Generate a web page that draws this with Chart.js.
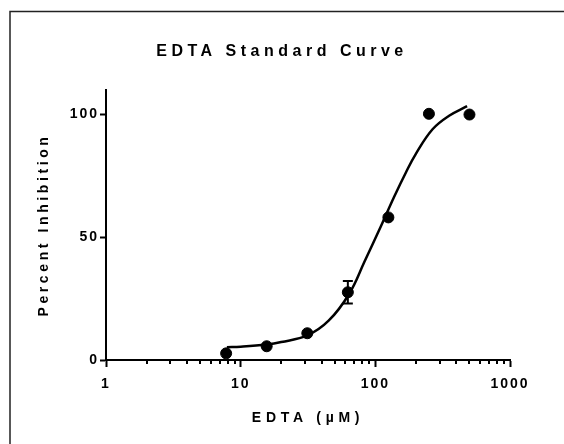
<!DOCTYPE html>
<html>
<head>
<meta charset="utf-8">
<script src="https://cdn.jsdelivr.net/npm/chart.js@4.4.1/dist/chart.umd.min.js"></script>
<style>
  html, body { margin: 0; padding: 0; background: #fff; overflow: hidden; }
  #wrap { position: relative; width: 564px; height: 444px; }
</style>
</head>
<body>
<div id="wrap"><canvas id="curveChart"></canvas></div>
<script>
// Dados medidos (EDTA, uM) e inibição (%)
const concentrations = [7.8, 15.6, 31.25, 62.5, 125, 250, 500];
const inhibition = [2.7, 5.6, 10.9, 27.6, 58.1, 100.3, 100];
const errors = [0, 0, 0, 4.6, 0, 0, 0];

// Curva ajustada
const fitX = [7.9, 10, 15.6, 20, 31.25, 45, 64, 83, 110, 138, 169, 200, 266, 353, 480];
const fitY = [5.2, 5.4, 6.3, 7.3, 10, 16, 27, 40, 54.5, 66.5, 76.5, 84, 94, 99.5, 103.4];

const xTicks = [1, 10, 100, 1000];
const yTicks = [0, 50, 100];

// espaçamento entre letras por texto
const spacing = {
    'EDTA Standard Curve': 4.5,
    'Percent Inhibition': 3.6,
    'EDTA (µM)': 4.7
};

const FONT = '"Liberation Sans", Arial, sans-serif';

const extrasPlugin = {
    id: 'extras',
    beforeInit(chart) {
        const ctx = chart.ctx;
        const fill = ctx.fillText;
        ctx.fillText = function(text, x, y, maxWidth) {
            const s = spacing[text] !== undefined ? spacing[text] : 2;
            this.letterSpacing = s + 'px';
            return maxWidth === undefined ? fill.call(this, text, x, y) : fill.call(this, text, x, y, maxWidth);
        };
    },
    beforeDraw(chart) {
        const ctx = chart.ctx;
        ctx.save();
        ctx.fillStyle = '#fff';
        ctx.fillRect(0, 0, chart.width, chart.height);
        ctx.strokeStyle = '#222';
        ctx.lineWidth = 1.5;
        ctx.strokeRect(10, 11.5, 600, 500);
        ctx.restore();
    },
    beforeDatasetsDraw(chart) {
        // barras de erro
        const ctx = chart.ctx;
        const xs = chart.scales.x, ys = chart.scales.y;
        ctx.save();
        ctx.strokeStyle = '#000';
        ctx.lineWidth = 2;
        concentrations.forEach((c, i) => {
            if (!errors[i]) return;
            const px = xs.getPixelForValue(c);
            const top = ys.getPixelForValue(inhibition[i] + errors[i]);
            const bot = ys.getPixelForValue(inhibition[i] - errors[i]);
            ctx.beginPath();
            ctx.moveTo(px, top); ctx.lineTo(px, bot);
            ctx.moveTo(px - 5, top); ctx.lineTo(px + 5, top);
            ctx.moveTo(px - 5, bot); ctx.lineTo(px + 5, bot);
            ctx.stroke();
        });
        ctx.restore();
    },
    afterDraw(chart) {
        // marcas menores do eixo log
        const ctx = chart.ctx;
        const xs = chart.scales.x;
        const y0 = chart.chartArea.bottom;
        ctx.save();
        ctx.strokeStyle = '#000';
        ctx.lineWidth = 2;
        ctx.beginPath();
        xTicks.slice(0, -1).forEach(d => {
            for (let m = 2; m <= 9; m++) {
                const px = Math.round(xs.getPixelForValue(d * m));
                ctx.moveTo(px, y0);
                ctx.lineTo(px, y0 + 4);
            }
        });
        ctx.stroke();
        ctx.restore();
    }
};

new Chart(document.getElementById('curveChart'), {
    type: 'scatter',
    data: {
        datasets: [{
            label: 'Dados',
            data: concentrations.map((c, i) => ({ x: c, y: inhibition[i] })),
            backgroundColor: '#000',
            borderColor: '#000',
            pointRadius: 5.5,
            pointHoverRadius: 5.5,
            showLine: false,
            order: 1
        }, {
            label: 'Ajuste',
            data: fitX.map((x, i) => ({ x: x, y: fitY[i] })),
            showLine: true,
            borderColor: '#000',
            borderWidth: 2.5,
            pointRadius: 0,
            tension: 0.4,
            fill: false,
            order: 2
        }]
    },
    options: {
        responsive: true,
        maintainAspectRatio: false,
        animation: false,
        layout: { padding: { left: 0, right: 0, top: 0, bottom: 0 } },
        plugins: {
            legend: { display: false },
            tooltip: { enabled: false },
            title: {
                display: true,
                text: 'EDTA Standard Curve',
                color: '#000',
                font: { family: FONT, size: 16, weight: 'bold' },
                padding: { top: 42, bottom: 28.8 }
            }
        },
        scales: {
            x: {
                type: 'logarithmic',
                min: 1,
                max: 1000,
                afterBuildTicks: scale => { scale.ticks = xTicks.map(v => ({ value: v, major: true })); },
                afterFit: scale => { scale.height = 84; },
                grid: { display: true, drawOnChartArea: false, drawTicks: true, tickLength: 7, tickWidth: 2, tickColor: '#000' },
                border: { display: true, color: '#000', width: 2 },
                ticks: {
                    color: '#000',
                    font: { family: FONT, size: 14, weight: 'bold' },
                    padding: 9,
                    maxRotation: 0,
                    autoSkip: false,
                    callback: v => String(v)
                },
                title: {
                    display: true,
                    text: 'EDTA (µM)',
                    color: '#000',
                    font: { family: FONT, size: 14, weight: 'bold' },
                    padding: { top: 0, bottom: 17 }
                }
            },
            y: {
                min: 0,
                max: 110,
                afterBuildTicks: scale => { scale.ticks = yTicks.map(v => ({ value: v })); },
                afterFit: scale => { scale.width = 106; },
                grid: { display: true, drawOnChartArea: false, drawTicks: true, tickLength: 6, tickWidth: 2, tickColor: '#000' },
                border: { display: true, color: '#000', width: 2 },
                ticks: {
                    color: '#000',
                    font: { family: FONT, size: 14, weight: 'bold' },
                    padding: 1,
                    callback: v => String(v)
                },
                title: {
                    display: true,
                    text: 'Percent Inhibition',
                    color: '#000',
                    font: { family: FONT, size: 14, weight: 'bold' },
                    padding: { top: 36, bottom: 0 }
                }
            },
            // espaço à direita (sem desenho)
            right: {
                type: 'linear',
                position: 'right',
                display: true,
                min: 0,
                max: 1,
                afterFit: scale => { scale.width = 54; },
                grid: { display: false },
                border: { display: false },
                ticks: { display: false },
                title: { display: false }
            }
        }
    },
    plugins: [extrasPlugin]
});
</script>
</body>
</html>
